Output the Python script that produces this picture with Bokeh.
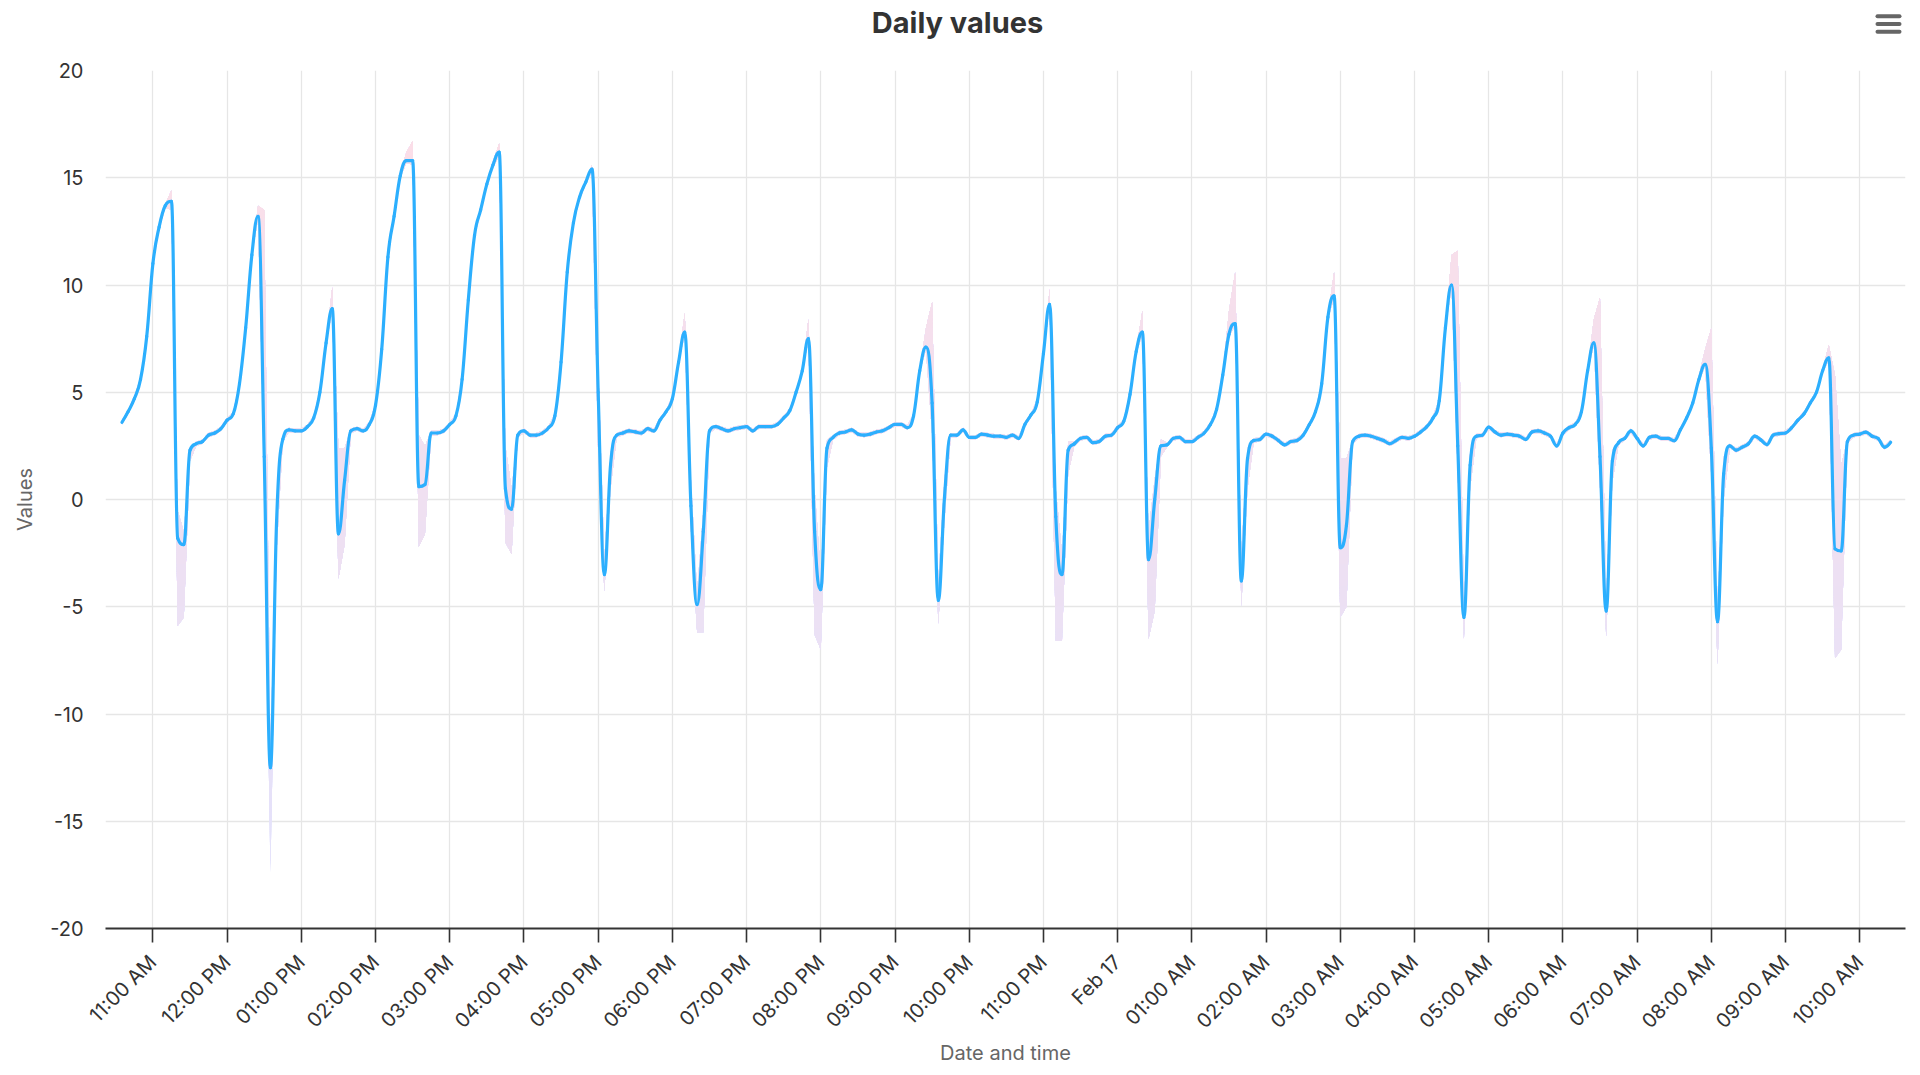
import numpy as np
import pandas as pd
from bokeh.plotting import figure
from bokeh.layouts import column
from bokeh.models import FixedTicker, Range1d
from bokeh.core.properties import value
from bokeh.embed import file_html
from bokeh.resources import INLINE

# ---------------- data (5-minute samples, Feb 16 10:35 -> Feb 17 10:25) ----------------
start_time = "2024-02-16 10:35"
sample_step = "5min"

value_rows = [
    [3.6, 4.1, 4.7, 5.6, 7.6],                                                   # 10:35-10:55
    [11.0, 12.7, 13.7, 13.9, -1.8, -2.1, 2.3, 2.6, 2.7, 3.0, 3.1, 3.3],          # 11:00
    [3.7, 4.0, 5.4, 8.0, 11.4, 13.2, 2.0, -12.5, -1.0, 2.8, 3.25, 3.2],          # 12:00
    [3.2, 3.4, 3.8, 5.0, 7.3, 8.9, -1.6, 0.9, 3.2, 3.3, 3.2, 3.5],               # 13:00
    [4.4, 7.0, 11.3, 13.2, 15.1, 15.8, 15.8, 0.6, 0.7, 3.1, 3.1, 3.2],           # 14:00
    [3.5, 3.9, 5.6, 9.3, 12.3, 13.5, 14.7, 15.6, 16.2, 0.5, -0.45, 3.0],         # 15:00
    [3.2, 3.0, 3.0, 3.1, 3.35, 3.9, 6.4, 10.6, 12.9, 14.1, 14.8, 15.4],          # 16:00
    [5.0, -3.5, 1.6, 3.0, 3.1, 3.2, 3.15, 3.1, 3.3, 3.2, 3.7, 4.1],              # 17:00
    [4.7, 6.4, 7.8, -0.3, -4.9, -1.5, 3.2, 3.4, 3.3, 3.2, 3.3, 3.35],            # 18:00
    [3.4, 3.2, 3.4, 3.4, 3.4, 3.5, 3.8, 4.15, 5.0, 6.0, 7.5, -1.5],              # 19:00
    [-4.2, 2.4, 2.9, 3.1, 3.15, 3.25, 3.05, 3.0, 3.05, 3.15, 3.2, 3.35],         # 20:00
    [3.5, 3.5, 3.35, 3.9, 6.0, 7.1, 4.5, -4.7, 0.1, 3.0, 3.0, 3.25],             # 21:00
    [2.9, 2.9, 3.05, 3.0, 2.95, 2.95, 2.9, 3.0, 2.85, 3.5, 3.95, 4.55],          # 22:00
    [6.8, 9.1, -0.8, -3.5, 2.3, 2.6, 2.85, 2.9, 2.65, 2.7, 2.95, 3.0],           # 23:00
    [3.35, 3.65, 4.9, 6.9, 7.8, -2.8, 0.0, 2.5, 2.55, 2.85, 2.9, 2.7],           # 00:00
    [2.7, 2.9, 3.1, 3.5, 4.2, 5.8, 7.7, 8.2, -3.8, 1.9, 2.75, 2.8],              # 01:00
    [3.05, 2.95, 2.75, 2.55, 2.7, 2.75, 3.0, 3.5, 4.1, 5.4, 8.5, 9.5],           # 02:00
    [-2.25, -1.2, 2.7, 2.95, 3.0, 2.95, 2.85, 2.75, 2.6, 2.75, 2.9, 2.85],       # 03:00
    [2.95, 3.15, 3.4, 3.8, 4.6, 8.0, 10.0, 2.5, -5.5, 1.6, 2.95, 3.0],           # 04:00
    [3.37, 3.15, 3.0, 3.05, 3.0, 2.95, 2.8, 3.15, 3.2, 3.1, 2.95, 2.5],          # 05:00
    [3.1, 3.35, 3.5, 4.1, 6.0, 7.3, 2.0, -5.2, 1.8, 2.65, 2.85, 3.2],            # 06:00
    [2.85, 2.5, 2.9, 2.95, 2.85, 2.85, 2.74, 3.25, 3.8, 4.5, 5.6, 6.3],          # 07:00
    [2.4, -5.7, 1.2, 2.5, 2.3, 2.44, 2.6, 2.95, 2.78, 2.56, 3.0, 3.07],          # 08:00
    [3.1, 3.35, 3.7, 4.0, 4.5, 5.0, 6.0, 6.6, -2.3, -2.4, 2.7, 3.0],             # 09:00
    [3.05, 3.14, 2.95, 2.84, 2.44, 2.67],                                        # 10:00-10:25
]

low_rows = [
    [3.5, 4.0, 4.6, 5.5, 7.5],
    [10.9, 12.6, 13.6, 13.5, -5.9, -5.5, 1.8, 2.5, 2.6, 2.9, 3.0, 3.2],
    [3.6, 3.9, 5.3, 7.9, 11.3, 13.1, 1.0, -17.4, -2.5, 2.7, 3.15, 3.1],
    [3.1, 3.3, 3.7, 4.9, 7.2, 8.8, -3.7, -2.1, 3.1, 3.2, 3.1, 3.4],
    [4.3, 6.9, 11.2, 13.1, 15.0, 15.7, 15.6, -2.2, -1.6, 3.0, 3.0, 3.1],
    [3.4, 3.8, 5.5, 9.2, 12.2, 13.4, 14.6, 15.5, 16.0, -2.0, -2.55, 2.9],
    [3.1, 2.9, 2.9, 3.0, 3.25, 3.8, 6.3, 10.5, 12.8, 14.0, 14.7, 15.3],
    [2.0, -4.3, 0.5, 2.9, 3.0, 3.1, 3.05, 3.0, 3.2, 3.1, 3.6, 4.0],
    [4.6, 6.3, 7.7, -1.5, -6.2, -6.2, 3.1, 3.3, 3.2, 3.1, 3.2, 3.25],
    [3.3, 3.1, 3.3, 3.3, 3.3, 3.4, 3.7, 4.05, 4.9, 5.9, 7.4, -6.3],
    [-7.0, 1.5, 2.8, 3.0, 3.05, 3.15, 2.95, 2.9, 2.95, 3.05, 3.1, 3.25],
    [3.4, 3.4, 3.25, 3.8, 5.9, 7.0, 3.0, -5.8, -1.0, 2.9, 2.9, 3.15],
    [2.8, 2.8, 2.95, 2.9, 2.85, 2.85, 2.8, 2.9, 2.75, 3.4, 3.85, 4.45],
    [6.7, 9.0, -6.6, -6.6, 1.2, 2.5, 2.75, 2.8, 2.55, 2.6, 2.85, 2.9],
    [3.25, 3.55, 4.8, 6.8, 7.7, -6.5, -5.2, 2.0, 2.45, 2.75, 2.8, 2.6],
    [2.6, 2.8, 3.0, 3.4, 4.1, 5.7, 7.6, 8.1, -5.0, 0.5, 2.65, 2.7],
    [2.95, 2.85, 2.65, 2.45, 2.6, 2.65, 2.9, 3.4, 4.0, 5.3, 8.4, 9.4],
    [-5.5, -5.0, 2.6, 2.85, 2.9, 2.85, 2.75, 2.65, 2.5, 2.65, 2.8, 2.75],
    [2.85, 3.05, 3.3, 3.7, 4.5, 7.9, 9.9, 1.0, -6.5, 0.5, 2.85, 2.9],
    [3.27, 3.05, 2.9, 2.95, 2.9, 2.85, 2.7, 3.05, 3.1, 3.0, 2.85, 2.4],
    [3.0, 3.25, 3.4, 4.0, 5.9, 7.2, 0.5, -6.4, 0.8, 2.55, 2.75, 3.1],
    [2.75, 2.4, 2.8, 2.85, 2.75, 2.75, 2.64, 3.15, 3.7, 4.4, 5.5, 6.2],
    [1.0, -7.7, 0.0, 2.4, 2.2, 2.34, 2.5, 2.85, 2.68, 2.46, 2.9, 2.97],
    [3.0, 3.25, 3.6, 3.9, 4.4, 4.9, 5.9, 6.5, -7.4, -7.0, 2.6, 2.9],
    [2.95, 3.04, 2.85, 2.74, 2.34, 2.57],
]

high_rows = [
    [3.7, 4.2, 4.8, 5.7, 7.7],
    [11.1, 12.8, 13.8, 14.4, -0.5, -1.5, 2.4, 2.7, 2.8, 3.1, 3.2, 3.4],
    [3.8, 4.1, 5.5, 8.1, 11.5, 13.7, 13.5, -11.5, -0.5, 2.9, 3.35, 3.3],
    [3.3, 3.5, 3.9, 5.1, 7.4, 9.9, 2.4, 2.4, 3.3, 3.4, 3.3, 3.6],
    [4.5, 7.1, 11.4, 13.3, 15.3, 16.2, 16.7, 3.0, 2.5, 3.2, 3.2, 3.3],
    [3.6, 4.0, 5.7, 9.4, 12.4, 13.6, 14.8, 15.8, 16.6, 2.5, 0.5, 3.1],
    [3.3, 3.1, 3.1, 3.2, 3.45, 4.0, 6.5, 10.7, 13.0, 14.2, 14.9, 15.6],
    [6.5, -2.8, 2.2, 3.1, 3.2, 3.3, 3.25, 3.2, 3.4, 3.3, 3.8, 4.2],
    [4.8, 6.5, 8.7, 1.0, -4.3, -0.5, 3.3, 3.5, 3.4, 3.3, 3.4, 3.45],
    [3.5, 3.3, 3.5, 3.5, 3.5, 3.6, 3.9, 4.25, 5.1, 6.1, 8.4, 0.5],
    [-3.5, 2.8, 3.0, 3.2, 3.25, 3.35, 3.15, 3.1, 3.15, 3.25, 3.3, 3.45],
    [3.6, 3.6, 3.45, 4.0, 6.1, 8.0, 9.2, -3.8, 1.0, 3.1, 3.1, 3.35],
    [3.0, 3.0, 3.15, 3.1, 3.05, 3.05, 3.0, 3.1, 2.95, 3.6, 4.05, 4.65],
    [6.9, 9.8, 0.5, -2.5, 2.7, 2.7, 2.95, 3.0, 2.75, 2.8, 3.05, 3.1],
    [3.45, 3.75, 5.0, 7.0, 8.8, -1.5, 1.0, 2.8, 2.65, 2.95, 3.0, 2.8],
    [2.8, 3.0, 3.2, 3.6, 4.3, 5.9, 8.8, 10.6, -2.5, 2.4, 2.85, 2.9],
    [3.15, 3.05, 2.85, 2.65, 2.8, 2.85, 3.1, 3.6, 4.2, 5.5, 8.6, 10.6],
    [1.9, 1.9, 2.8, 3.05, 3.1, 3.05, 2.95, 2.85, 2.7, 2.85, 3.0, 2.95],
    [3.05, 3.25, 3.5, 3.9, 4.7, 8.1, 11.4, 11.6, -5.0, 2.3, 3.05, 3.1],
    [3.47, 3.25, 3.1, 3.15, 3.1, 3.05, 2.9, 3.25, 3.3, 3.2, 3.05, 2.6],
    [3.2, 3.45, 3.6, 4.2, 6.1, 8.4, 9.4, -4.5, 2.3, 2.75, 2.95, 3.3],
    [2.95, 2.6, 3.0, 3.05, 2.95, 2.95, 2.84, 3.35, 3.9, 4.6, 5.8, 7.0],
    [8.0, -5.0, 2.0, 2.6, 2.4, 2.54, 2.7, 3.05, 2.88, 2.66, 3.1, 3.17],
    [3.2, 3.45, 3.8, 4.1, 4.6, 5.1, 6.1, 7.2, 5.8, 1.6, 2.8, 3.1],
    [3.15, 3.24, 3.05, 2.94, 2.54, 2.77],
]

tick_times = pd.date_range("2024-02-16 11:00", "2024-02-17 10:00", freq="1h")
tick_labels = ["11:00 AM", "12:00 PM", "01:00 PM", "02:00 PM", "03:00 PM", "04:00 PM",
               "05:00 PM", "06:00 PM", "07:00 PM", "08:00 PM", "09:00 PM", "10:00 PM",
               "11:00 PM", "Feb 17", "01:00 AM", "02:00 AM", "03:00 AM", "04:00 AM",
               "05:00 AM", "06:00 AM", "07:00 AM", "08:00 AM", "09:00 AM", "10:00 AM"]
y_ticks = [-20, -15, -10, -5, 0, 5, 10, 15, 20]
y_tick_labels = ["-20", "-15", "-10", "-5", "0", "5", "10", "15", "20"]

chart_title = "Daily values"
x_title = "Date and time"
y_title = "Values"

# ---------------- assemble ----------------
values = np.array([v for r in value_rows for v in r], dtype=float)
lows = np.array([v for r in low_rows for v in r], dtype=float)
highs = np.array([v for r in high_rows for v in r], dtype=float)
times = pd.date_range(start_time, periods=len(values), freq=sample_step)
xs = (times.asi8 // 10**6).astype(float)          # ms since epoch
tick_ms = [int(t) for t in (tick_times.asi8 // 10**6)]


def to_ms(s):
    return float(pd.Timestamp(s).value // 10**6)


FONT = "Inter"
W = 1920
TOTAL_H = 1075
HEAD_H = 48
MAIN_H = TOTAL_H - HEAD_H
FRAME_L, FRAME_R = 105, 1905          # page pixels
FRAME_T, FRAME_B = 70, 928

# ---------------- header (title + menu icon), page-pixel coordinates ----------------
head = figure(width=W, height=HEAD_H, output_backend="svg", toolbar_location=None,
              x_range=Range1d(FRAME_L, FRAME_R), y_range=Range1d(HEAD_H, 0),
              min_border_left=FRAME_L, min_border_right=W - FRAME_R,
              min_border_top=0, min_border_bottom=0)
head.axis.visible = False
head.grid.visible = False
head.outline_line_color = None
head.background_fill_color = "white"
head.border_fill_color = "white"
head.text(x=[957], y=[21.5], text=[chart_title], text_font=value(FONT),
          text_font_size="29px", text_font_style="bold", text_color="#333333",
          text_align="center", text_baseline="middle")
head.segment(x0=[1877, 1877, 1877], x1=[1899, 1899, 1899],
             y0=[15.7, 23.4, 31.2], y1=[15.7, 23.4, 31.2],
             line_color="#666666", line_width=4, line_cap="round")

# ---------------- main chart ----------------
p = figure(width=W, height=MAIN_H, output_backend="svg", toolbar_location=None,
           x_axis_type="datetime",
           x_range=Range1d(to_ms("2024-02-16 10:21:40"), to_ms("2024-02-17 10:37:00")),
           y_range=Range1d(-20, 20))
p.min_border_left = FRAME_L
p.min_border_right = W - FRAME_R
p.min_border_top = FRAME_T - HEAD_H
p.min_border_bottom = TOTAL_H - FRAME_B
p.outline_line_color = None
p.background_fill_color = "white"
p.border_fill_color = "white"

# range band with a vertical gradient (pink at top, lavender at bottom):
# stacked layers, each covering the part of the band above its level
top_rgb = np.array([253, 222, 230])
bot_rgb = np.array([226, 226, 252])
levels = np.arange(-20, 20, 1.0)
for a in levels:
    if highs.max() <= a:
        continue
    cross = [xs]
    for arr in (lows, highs):
        d = arr - a
        idx = np.where(d[:-1] * d[1:] < 0)[0]
        frac = d[idx] / (d[idx] - d[idx + 1])
        cross.append(xs[idx] + frac * (xs[idx + 1] - xs[idx]))
    xr = np.unique(np.concatenate(cross))
    lo_r = np.maximum(np.interp(xr, xs, lows), a)
    hi_r = np.maximum(np.interp(xr, xs, highs), a)
    f = (a + 0.5 + 20) / 40
    c = bot_rgb + (top_rgb - bot_rgb) * f
    col = "#%02x%02x%02x" % tuple(int(round(v)) for v in c)
    p.varea(x=xr, y1=lo_r, y2=hi_r, fill_color=col, fill_alpha=1.0)

# spline line (Highcharts-style bezier control points)
n = len(xs)
smoothing = 1.5
denom = smoothing + 1
lcx = xs.copy(); lcy = values.copy(); rcx = xs.copy(); rcy = values.copy()
for i in range(1, n - 1):
    px, py = xs[i], values[i]
    lx, ly = xs[i - 1], values[i - 1]
    nx, ny = xs[i + 1], values[i + 1]
    L_x = (smoothing * px + lx) / denom
    L_y = (smoothing * py + ly) / denom
    R_x = (smoothing * px + nx) / denom
    R_y = (smoothing * py + ny) / denom
    corr = 0.0
    if R_x != L_x:
        corr = ((R_y - L_y) * (R_x - px)) / (R_x - L_x) + py - R_y
    L_y += corr
    R_y += corr
    if L_y > ly and L_y > py:
        L_y = max(ly, py); R_y = 2 * py - L_y
    elif L_y < ly and L_y < py:
        L_y = min(ly, py); R_y = 2 * py - L_y
    if R_y > ny and R_y > py:
        R_y = max(ny, py); L_y = 2 * py - R_y
    elif R_y < ny and R_y < py:
        R_y = min(ny, py); L_y = 2 * py - R_y
    lcx[i], lcy[i], rcx[i], rcy[i] = L_x, L_y, R_x, R_y

p.bezier(x0=xs[:-1], y0=values[:-1], x1=xs[1:], y1=values[1:],
         cx0=rcx[:-1], cy0=rcy[:-1], cx1=lcx[1:], cy1=lcy[1:],
         line_color="#2caffe", line_width=3.2, line_cap="round", line_join="round")

# axes
p.xaxis.ticker = FixedTicker(ticks=tick_ms)
p.xaxis.major_label_overrides = dict(zip(tick_ms, tick_labels))
p.xaxis.major_label_orientation = np.pi / 4
p.xaxis.major_label_text_font = FONT
p.xaxis.major_label_text_font_size = "20px"
p.xaxis.major_label_text_color = "#333333"
p.xaxis.major_label_standoff = 16
p.xaxis.axis_line_color = "#333333"
p.xaxis.axis_line_width = 1.8
p.xaxis.major_tick_line_color = "#333333"
p.xaxis.major_tick_line_width = 1.6
p.xaxis.major_tick_in = 0
p.xaxis.major_tick_out = 14
p.xaxis.minor_tick_line_color = None
p.xaxis.axis_label = x_title
p.xaxis.axis_label_text_font = FONT
p.xaxis.axis_label_text_font_size = "20px"
p.xaxis.axis_label_text_font_style = "normal"
p.xaxis.axis_label_text_color = "#666666"
p.xaxis.axis_label_standoff = -4

p.yaxis.ticker = FixedTicker(ticks=y_ticks)
p.yaxis.major_label_overrides = dict(zip(y_ticks, y_tick_labels))
p.yaxis.major_label_text_font = FONT
p.yaxis.major_label_text_font_size = "20px"
p.yaxis.major_label_text_color = "#333333"
p.yaxis.major_label_standoff = 22
p.yaxis.axis_line_color = None
p.yaxis.major_tick_line_color = None
p.yaxis.major_tick_out = 0
p.yaxis.major_tick_in = 0
p.yaxis.minor_tick_line_color = None
p.yaxis.minor_tick_out = 0
p.yaxis.axis_label = y_title
p.yaxis.axis_label_text_font = FONT
p.yaxis.axis_label_text_font_size = "20px"
p.yaxis.axis_label_text_font_style = "normal"
p.yaxis.axis_label_text_color = "#666666"
p.yaxis.axis_label_standoff = 10

p.xgrid.grid_line_color = "#e6e6e6"
p.ygrid.grid_line_color = "#e6e6e6"
p.xgrid.grid_line_width = 1.3
p.ygrid.grid_line_width = 1.3

layout = column(head, p, spacing=0)
open("out.html", "w").write(file_html(layout, INLINE))
